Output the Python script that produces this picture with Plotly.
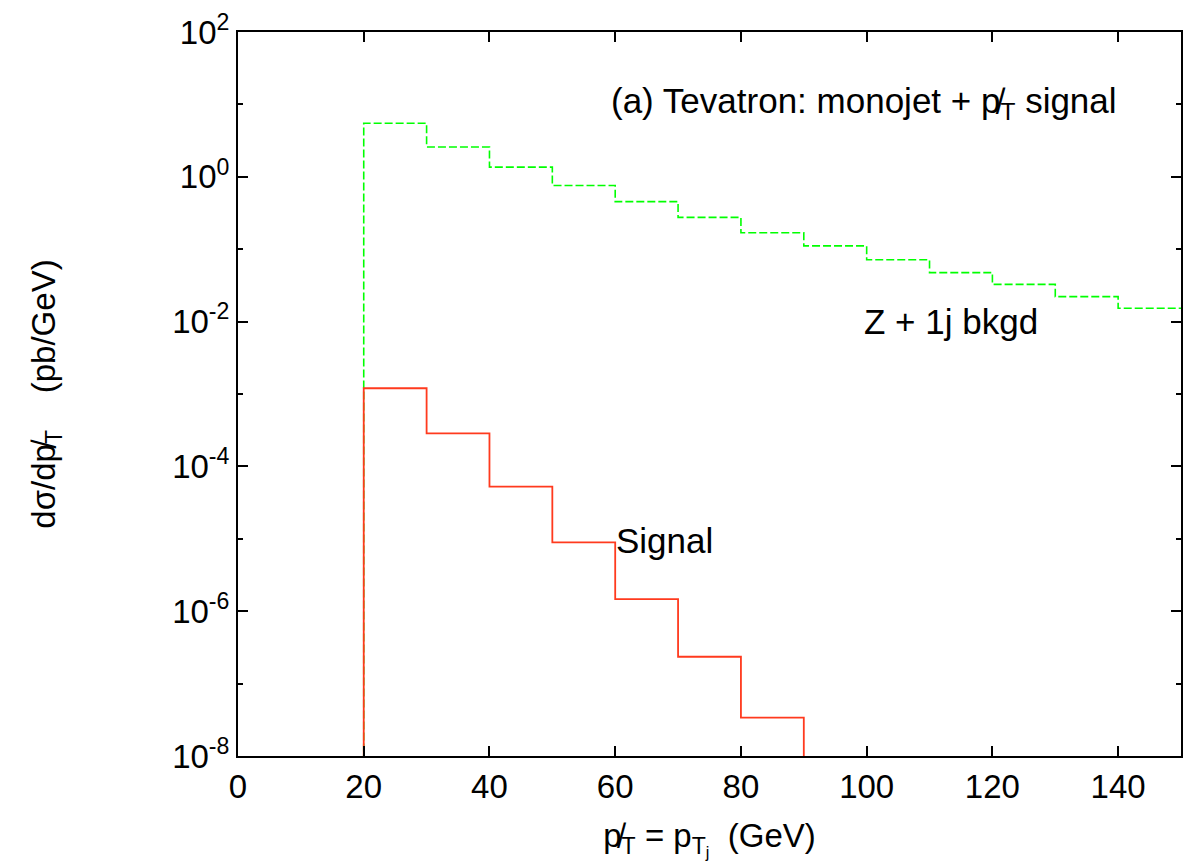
import plotly.graph_objects as go

# ---- data ----
bin_edges = [20, 30, 40, 50, 60, 70, 80, 90, 100, 110, 120, 130, 140, 150]
z1j_bkgd = [5.48, 2.58, 1.36, 0.76, 0.454, 0.275, 0.169, 0.111, 0.0716, 0.0474, 0.0327, 0.0221, 0.0153]
signal_edges = [20, 30, 40, 50, 60, 70, 80, 90]
signal = [1.2e-3, 2.86e-4, 5.25e-5, 8.95e-6, 1.47e-6, 2.35e-7, 3.38e-8]
floor_val = 1e-9  # below the axis bottom: vertical drop lines to the frame

x_ticks = [0, 20, 40, 60, 80, 100, 120, 140]
y_major = [1e2, 1e0, 1e-2, 1e-4, 1e-6, 1e-8]
y_major_text = ["10<sup>2</sup>", "10<sup>0</sup>", "10<sup>-2</sup>", "10<sup>-4</sup>",
                "10<sup>-6</sup>", "10<sup>-8</sup>"]
y_minor = [1e1, 1e-1, 1e-3, 1e-5, 1e-7]

FONT = "Liberation Sans, Arial, Helvetica, sans-serif"

fig = go.Figure()

# Z + 1j background (green dashed histogram)
gx = [bin_edges[0]] + bin_edges[:-1] + [bin_edges[-1]]
gy = [floor_val] + z1j_bkgd + [z1j_bkgd[-1]]
fig.add_trace(go.Scatter(x=gx, y=gy, mode="lines", line_shape="hv",
                         line=dict(color="#00ff00", width=1.6, dash="8px,3px"),
                         showlegend=False, hoverinfo="skip"))

# Signal (red solid histogram)
sx = [signal_edges[0]] + signal_edges[:-1] + [signal_edges[-1]]
sy = [floor_val] + signal + [floor_val]
fig.add_trace(go.Scatter(x=sx, y=sy, mode="lines", line_shape="hv",
                         line=dict(color="#ff3a1e", width=1.8),
                         showlegend=False, hoverinfo="skip"))

fig.update_layout(
    width=1184, height=865,
    margin=dict(l=238, r=1, t=32, b=109),
    paper_bgcolor="white", plot_bgcolor="white",
    font=dict(family=FONT, size=33, color="black"),
    xaxis=dict(range=[0, 150], tickmode="array", tickvals=x_ticks,
               ticks="inside", ticklen=10, tickwidth=1.5, tickcolor="black",
               showline=True, linecolor="black", linewidth=2, mirror="ticks",
               showgrid=False, zeroline=False,
               tickfont=dict(size=33),
               title=dict(text="p\u0338<sub>T</sub> = p<sub>T<sub>j</sub></sub>  (GeV)",
                          font=dict(size=33), standoff=20)),
    yaxis=dict(type="log", range=[-8, 2], tickmode="array", tickvals=y_major,
               ticktext=y_major_text,
               ticks="inside", ticklen=10, tickwidth=1.5, tickcolor="black",
               minor=dict(tickmode="array", tickvals=y_minor, ticks="inside",
                          ticklen=5, tickwidth=1.5, tickcolor="black", showgrid=False),
               showline=True, linecolor="black", linewidth=2, mirror="ticks",
               showgrid=False, zeroline=False,
               tickfont=dict(size=33),
               title=dict(text="d\u03c3/dp\u0338<sub>T</sub>    (pb/GeV)", font=dict(size=33),
                          standoff=107)),
)

fig.add_annotation(x=59.0, y=1.02, xref="x", yref="y", xanchor="left", yanchor="middle",
                   text="(a) Tevatron: monojet + p\u0338<sub>T</sub> signal",
                   showarrow=False, font=dict(size=35))
fig.add_annotation(x=99.3, y=-2.0, xref="x", yref="y", xanchor="left", yanchor="middle",
                   text="Z + 1j bkgd", showarrow=False, font=dict(size=35))
fig.add_annotation(x=59.8, y=-5.02, xref="x", yref="y", xanchor="left", yanchor="middle",
                   text="Signal", showarrow=False, font=dict(size=35))

# remove the default 8px page margin so the 1184x865 figure fills the window exactly
fig.write_html("out.html",
               config={"displayModeBar": False},
               post_script="document.body.style.margin='0';document.body.style.overflow='hidden';")
